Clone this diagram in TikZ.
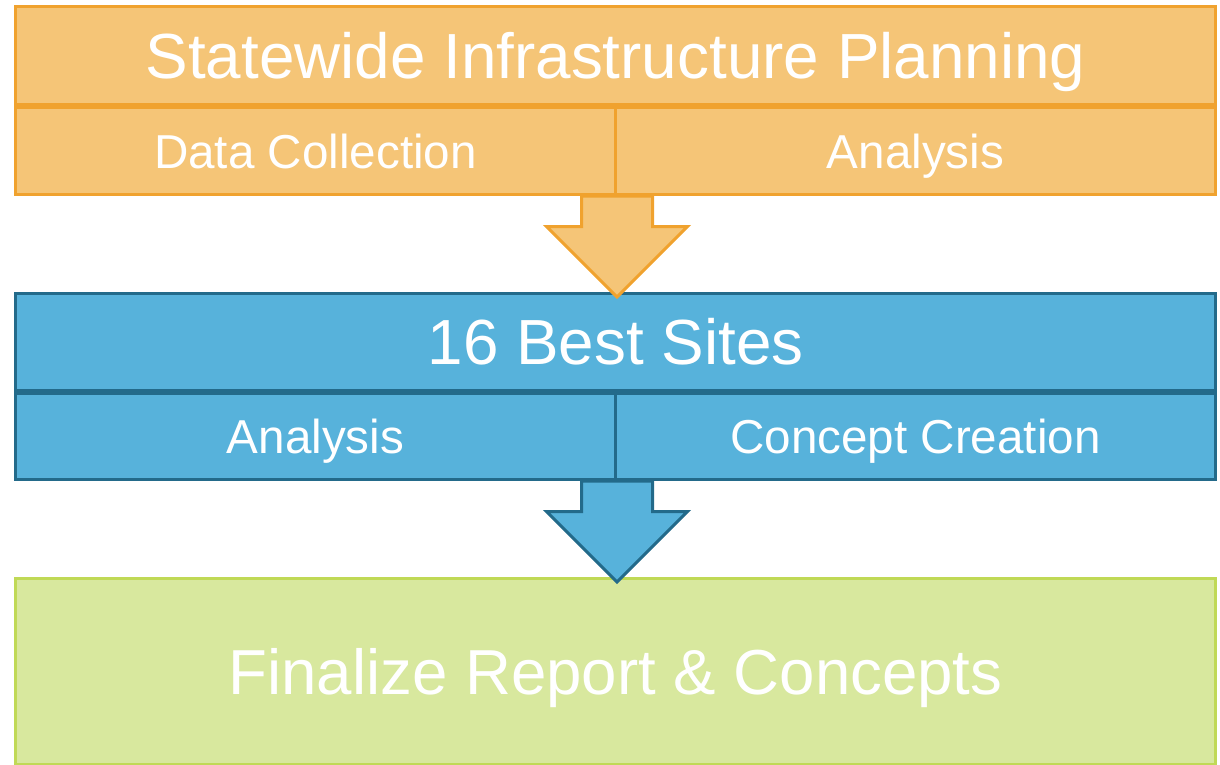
\documentclass[tikz,border=0pt]{standalone}
\usepackage{fontspec}
\setmainfont{Liberation Sans}
\usetikzlibrary{positioning}
\definecolor{orangefill}{HTML}{F5C577}
\definecolor{orangeline}{HTML}{F0A22E}
\definecolor{bluefill}{HTML}{57B2DB}
\definecolor{blueline}{HTML}{236A8A}
\definecolor{greenfill}{HTML}{D8E89E}
\definecolor{greenline}{HTML}{C0D956}
\tikzset{
  block/.style={rectangle, line width=3pt, text=white, inner sep=0pt, text depth=0pt},
  titlerow/.style={block, minimum width=1200pt, text height=45.5pt,
    font=\fontsize{63.8}{64}\selectfont},
  subrow/.style={block, minimum width=600pt, minimum height=86.5pt, text height=34pt,
    font=\fontsize{47.6}{48}\selectfont},
  blockarrow/.style={line width=3pt, line join=miter},
}
% block arrow hanging below the corner between two sub rows
\newcommand\stagearrow[2]{%
  \draw[blockarrow, #2] (#1) ++(-35.5,0) -- ++(0,30.5) -- ++(-35,0)
    -- ++(70.5,70.5) -- ++(70.5,-70.5) -- ++(-35,0) -- ++(0,-30.5) -- cycle;}
\begin{document}
\begin{tikzpicture}[x=1pt, y=-1pt]
\useasboundingbox (0,0) rectangle (1220,765);

% Planning stage
\node[titlerow, draw=orangeline, fill=orangefill, minimum height=98.5pt] (plan) at (615.5,55.75) {Statewide Infrastructure Planning};
\node[subrow, draw=orangeline, fill=orangefill, anchor=north west] (collect) at (plan.south west) {Data Collection};
\node[subrow, draw=orangeline, fill=orangefill, anchor=north east] (analysis) at (plan.south east) {Analysis};

% Site stage
\node[titlerow, draw=blueline, fill=bluefill, minimum height=96.5pt] (sites) at (615.5,341.75) {16 Best Sites};
\node[subrow, draw=blueline, fill=bluefill, anchor=north west] (siteanalysis) at (sites.south west) {Analysis};
\node[subrow, draw=blueline, fill=bluefill, anchor=north east] (concept) at (sites.south east) {Concept Creation};

% Final stage
\node[block, draw=greenline, fill=greenfill, minimum width=1200pt, minimum height=186pt,
  text height=45.5pt, font=\fontsize{63.6}{64}\selectfont] (final) at (615.5,671.5) {Finalize Report \& Concepts};

% Arrows between stages
\stagearrow{collect.south east}{draw=orangeline, fill=orangefill}
\stagearrow{siteanalysis.south east}{draw=blueline, fill=bluefill}
\end{tikzpicture}
\end{document}
